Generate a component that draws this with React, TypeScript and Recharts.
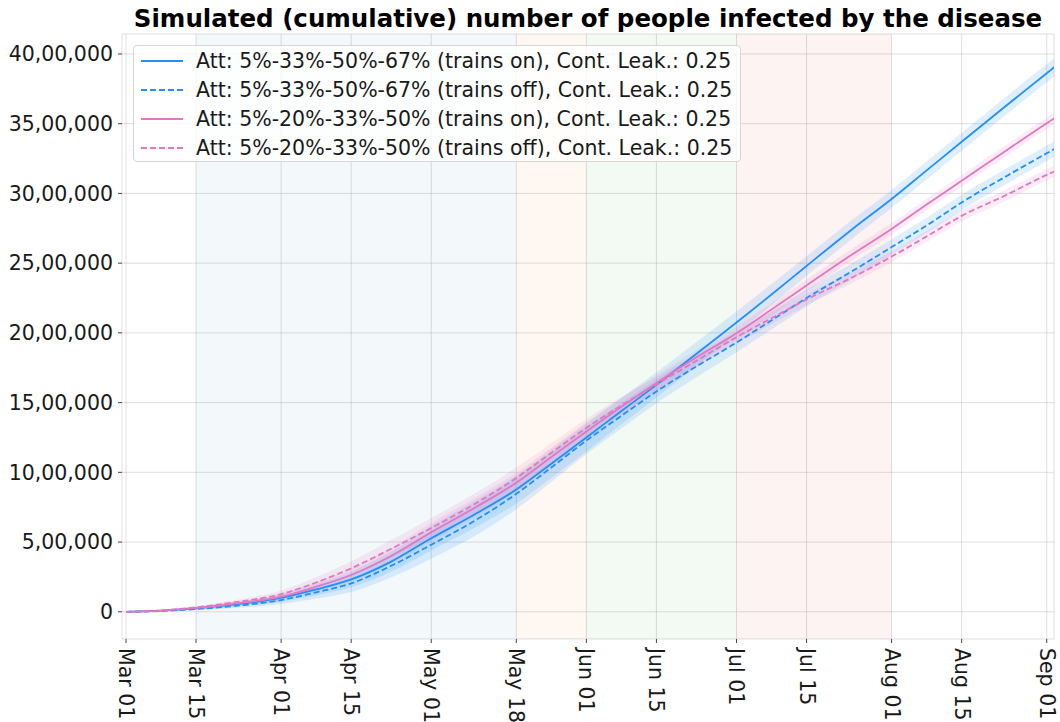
import { ComposedChart, Line, Area, XAxis, YAxis, CartesianGrid, ReferenceArea, Legend } from 'recharts'

// days since Mar 01
const days = [0, 7, 14, 21, 31, 38, 45, 53, 61, 70, 78, 85, 92, 99, 106, 114, 122, 129, 136, 145, 153, 160, 167, 176, 184, 186]

const blueOn = [0, 8000, 25000, 50000, 100000, 160000, 232000, 360000, 527000, 705000, 877000, 1062000, 1250000, 1440000, 1627000, 1850000, 2074000, 2275000, 2480000, 2740000, 2960000, 3165000, 3370000, 3632000, 3862000, 3920000]
const blueOff = [0, 6000, 20000, 40000, 84000, 140000, 204000, 330000, 481000, 660000, 846000, 1035000, 1228000, 1405000, 1580000, 1760000, 1931000, 2090000, 2250000, 2440000, 2615000, 2770000, 2935000, 3125000, 3288000, 3328000]
const pinkOn = [0, 9000, 28000, 56000, 108000, 180000, 264000, 400000, 570000, 752000, 925000, 1110000, 1293000, 1470000, 1641000, 1825000, 1998000, 2168000, 2340000, 2560000, 2745000, 2920000, 3090000, 3310000, 3503000, 3550000]
const pinkOff = [0, 10000, 32000, 65000, 127000, 210000, 312000, 452000, 601000, 780000, 960000, 1140000, 1319000, 1480000, 1630000, 1800000, 1969000, 2105000, 2240000, 2395000, 2547000, 2692000, 2839000, 2990000, 3133000, 3165000]

// half-width of the shaded uncertainty bands
const blueOnSpread = [0, 3000, 8000, 15000, 28000, 42000, 56000, 72000, 88000, 96000, 100000, 102000, 100000, 95000, 90000, 85000, 80000, 75000, 70000, 68000, 65000, 65000, 65000, 65000, 65000, 65000]
const blueOffSpread = [0, 3000, 8000, 15000, 28000, 45000, 62000, 82000, 100000, 110000, 110000, 104000, 96000, 90000, 85000, 78000, 70000, 65000, 60000, 58000, 56000, 55000, 55000, 55000, 55000, 55000]
const pinkOnSpread = [0, 3000, 8000, 14000, 24000, 35000, 46000, 58000, 68000, 72000, 72000, 68000, 65000, 60000, 55000, 50000, 48000, 45000, 43000, 42000, 42000, 42000, 42000, 42000, 42000, 42000]
const pinkOffSpread = [0, 3000, 8000, 15000, 26000, 38000, 50000, 62000, 72000, 75000, 74000, 68000, 65000, 60000, 55000, 50000, 46000, 44000, 42000, 40000, 40000, 40000, 40000, 40000, 40000, 40000]

const tickDays = [0, 14, 31, 45, 61, 78, 92, 106, 122, 136, 153, 167, 184]
const tickLabels = ['Mar 01', 'Mar 15', 'Apr 01', 'Apr 15', 'May 01', 'May 18', 'Jun 01', 'Jun 15', 'Jul 01', 'Jul 15', 'Aug 01', 'Aug 15', 'Sep 01']
const yTicks = [0, 500000, 1000000, 1500000, 2000000, 2500000, 3000000, 3500000, 4000000]

// lockdown phases (days since Mar 01)
const phaseStart = [14, 78, 92, 122]
const phaseEnd = [78, 92, 122, 153]
const phaseColors = ['#1f77b4', '#ff7f0e', '#2ca02c', '#d62728']

const BLUE = '#1e90ff'
const PINK = '#e377c2'

const series = [
  { key: 'blueOn', values: blueOn, spread: blueOnSpread, name: 'Att: 5%-33%-50%-67% (trains on), Cont. Leak.: 0.25', color: BLUE, dashed: false },
  { key: 'blueOff', values: blueOff, spread: blueOffSpread, name: 'Att: 5%-33%-50%-67% (trains off), Cont. Leak.: 0.25', color: BLUE, dashed: true },
  { key: 'pinkOn', values: pinkOn, spread: pinkOnSpread, name: 'Att: 5%-20%-33%-50% (trains on), Cont. Leak.: 0.25', color: PINK, dashed: false },
  { key: 'pinkOff', values: pinkOff, spread: pinkOffSpread, name: 'Att: 5%-20%-33%-50% (trains off), Cont. Leak.: 0.25', color: PINK, dashed: true },
]

const data = days.map((d, i) => {
  const row: Record<string, any> = { day: d }
  series.forEach((s) => {
    row[s.key] = s.values[i]
    row[s.key + 'Band'] = [s.values[i] - s.spread[i], s.values[i] + s.spread[i]]
  })
  return row
})

const FONT = '"DejaVu Sans", Verdana, sans-serif'
const FS = 20.5

const formatIndian = (v: number) => {
  const s = Math.round(v).toString()
  if (s.length <= 3) return s
  const last3 = s.slice(-3)
  let rest = s.slice(0, -3)
  const parts: string[] = []
  while (rest.length > 2) {
    parts.unshift(rest.slice(-2))
    rest = rest.slice(0, -2)
  }
  if (rest) parts.unshift(rest)
  return parts.join(',') + ',' + last3
}

const DateTick = (props: any) => {
  const { x, y, payload } = props
  const label = tickLabels[tickDays.indexOf(payload.value)]
  return (
    <text
      x={x}
      y={y}
      transform={`rotate(90, ${x}, ${y})`}
      textAnchor="start"
      dominantBaseline="central"
      fontSize={FS}
      fontFamily={FONT}
      fill="#1a1a1a"
    >
      {label}
    </text>
  )
}

const LegendBox = () => (
  <div
    style={{
      background: 'rgba(255,255,255,0.8)',
      border: '1px solid #d6d6d6',
      borderRadius: 4,
      height: 117,
      paddingTop: 0,
      boxSizing: 'border-box',
      fontFamily: FONT,
      fontSize: FS,
      color: '#1a1a1a',
    }}
  >
    {series.map((s) => (
      <div key={s.key} style={{ display: 'flex', alignItems: 'center', height: 29.2, whiteSpace: 'nowrap' }}>
        <svg width={48} height={10} style={{ marginLeft: 6, marginRight: 8 }}>
          <line x1={1} y1={5} x2={43} y2={5} stroke={s.color} strokeWidth={1.8} strokeDasharray={s.dashed ? '6 3' : undefined} />
        </svg>
        <span>{s.name}</span>
      </div>
    ))}
  </div>
)

export default function App() {
  return (
    <div style={{ position: 'absolute', left: 0, top: 0, width: 1060, height: 722, background: '#fff' }}>
      <div
        style={{
          position: 'absolute',
          left: 122,
          width: 932,
          top: 4,
          textAlign: 'center',
          fontFamily: FONT,
          fontWeight: 'bold',
          fontSize: 24.5,
          color: '#000',
          whiteSpace: 'nowrap',
        }}
      >
        Simulated (cumulative) number of people infected by the disease
      </div>
      <ComposedChart width={1060} height={722} data={data} margin={{ top: 34, right: 6, bottom: 0, left: 0 }}>
        <CartesianGrid stroke="#b0b0b0" strokeOpacity={0.45} strokeWidth={0.9} />
        {phaseStart.map((start, i) => (
          <ReferenceArea key={`phase-${i}`} x1={start} x2={phaseEnd[i]} fill={phaseColors[i]} fillOpacity={0.055} stroke="none" />
        ))}
        <XAxis
          dataKey="day"
          type="number"
          domain={[-0.8, 185.45]}
          allowDataOverflow
          ticks={tickDays}
          interval={0}
          tick={<DateTick />}
          tickSize={4}
          tickMargin={5}
          height={83}
          axisLine={false}
          tickLine={{ stroke: '#444', strokeWidth: 1 }}
        />
        <YAxis
          type="number"
          domain={[-195000, 4143000]}
          allowDataOverflow
          ticks={yTicks}
          interval={0}
          tickFormatter={formatIndian}
          width={122}
          tickSize={4}
          tickMargin={5}
          axisLine={false}
          tickLine={{ stroke: '#444', strokeWidth: 1 }}
          tick={{ fontSize: FS, fontFamily: FONT, fill: '#1a1a1a' }}
        />
        {series.map((s) => (
          <Area
            key={s.key + 'Band'}
            dataKey={s.key + 'Band'}
            type="monotone"
            stroke="none"
            fill={s.color}
            fillOpacity={0.14}
            isAnimationActive={false}
            legendType="none"
          />
        ))}
        {series.map((s) => (
          <Line
            key={s.key}
            dataKey={s.key}
            name={s.name}
            type="monotone"
            stroke={s.color}
            strokeWidth={1.8}
            strokeDasharray={s.dashed ? '6 3' : undefined}
            dot={false}
            activeDot={false}
            isAnimationActive={false}
          />
        ))}
        <ReferenceArea fill="none" stroke="#6a6a6a" strokeWidth={1.2} />
        <Legend
          layout="horizontal"
          verticalAlign="middle"
          align="center"
          content={<LegendBox />}
          wrapperStyle={{ left: 133, top: 45, width: 608, height: 117 }}
        />
      </ComposedChart>
    </div>
  )
}
